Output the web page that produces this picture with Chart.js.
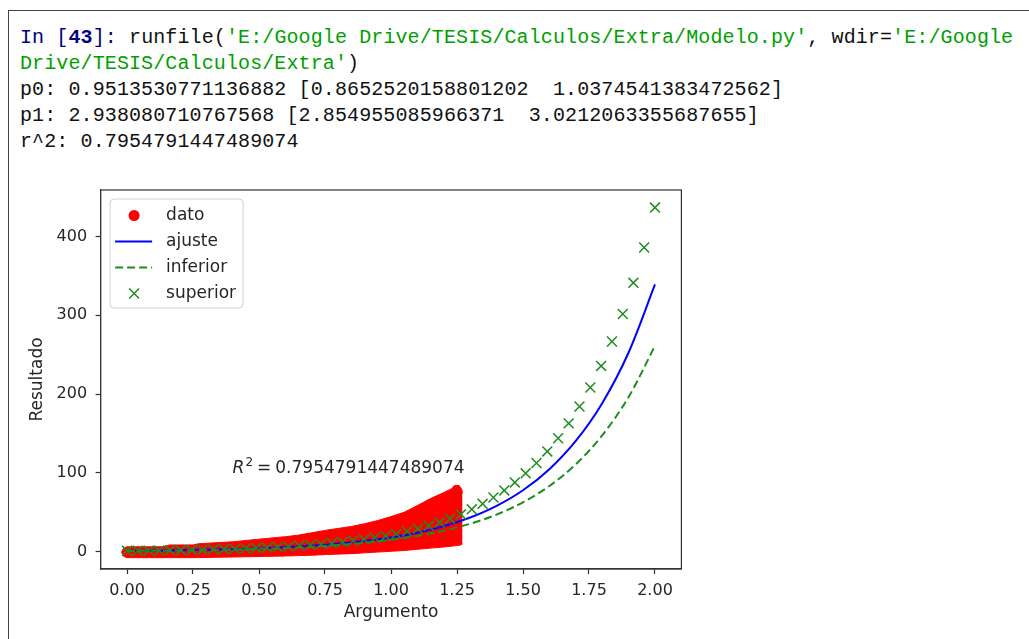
<!DOCTYPE html>
<html>
<head>
<meta charset="utf-8">
<script src="https://cdn.jsdelivr.net/npm/chart.js@4"></script>
<style>
  body { margin: 0; background: #fff; width: 1029px; height: 639px; overflow: hidden; position: relative; }
  #frame { position: absolute; left: 8px; top: 10px; width: 1030px; height: 640px;
           border-left: 1.5px solid #444; border-top: 1.5px solid #444; }
  #console { position: absolute; left: 20px; top: 25px; font: 20px 'Liberation Mono', monospace;
             line-height: 26px; letter-spacing: 0.11px; white-space: pre; color: #111; }
  .p { color: #000080; }
  .s { color: #00a000; }
  #box { position: absolute; left: 0; top: 170px; width: 720px; height: 469px; }
</style>
</head>
<body>
<div id="frame"></div>
<div id="console"><span class="p">In [</span><span class="p"><b>43</b></span><span class="p">]: </span>runfile(<span class="s">'E:/Google Drive/TESIS/Calculos/Extra/Modelo.py'</span>, wdir=<span class="s">'E:/Google</span>
<span class="s">Drive/TESIS/Calculos/Extra'</span>)
p0: 0.9513530771136882 [0.8652520158801202  1.0374541383472562]
p1: 2.938080710767568 [2.854955085966371  3.0212063355687655]
r^2: 0.7954791447489074</div>
<div id="box"><canvas id="chart"></canvas></div>
<script>
// axis ticks
const xTicks = [0, 0.25, 0.5, 0.75, 1, 1.25, 1.5, 1.75, 2];
const yTicks = [0, 100, 200, 300, 400];

// dato cloud, outline (top / bottom edge)
const datoX      = [-0.021, -0.012, 0, 0.14, 0.16, 0.25, 0.27, 0.40, 0.52, 0.60, 0.65, 0.70, 0.76, 0.85, 0.90, 0.95, 1.00, 1.05, 1.10, 1.15, 1.20, 1.23, 1.24, 1.258, 1.268, 1.271];
const datoTop    = [-0.8, 4.5, 6.2, 6.2, 8.5, 8.5, 10, 12.5, 16.5, 19, 21, 24, 27.5, 32, 35.5, 39.5, 44.5, 50, 58.5, 67.5, 75, 80, 84, 84, 79, 74];
const datoBottom = [-0.8, -6, -7.6, -7.6, -7.6, -7.6, -7.5, -6.8, -6, -5.5, -5, -4.5, -3.5, -2.5, -1.5, -0.5, 0.5, 1.5, 3, 4.5, 6, 7, 7.5, 8, 9, 10];

// fitted curves
const fitX      = [0, 0.1, 0.2, 0.3, 0.4, 0.5, 0.6, 0.7, 0.8, 0.9, 1.0, 1.1, 1.2, 1.3, 1.4, 1.5, 1.6, 1.7, 1.8, 1.9, 2.0];
const ajusteY   = [0.95, 1.28, 1.71, 2.30, 3.08, 4.13, 5.55, 7.44, 9.98, 13.4, 18.0, 24.1, 32.3, 43.4, 58.2, 78.0, 104.7, 140.5, 188.4, 252.8, 339.1];
const inferiorY = [0.87, 1.15, 1.53, 2.04, 2.71, 3.61, 4.80, 6.38, 8.49, 11.3, 15.0, 20.0, 26.6, 35.4, 47.1, 62.7, 83.4, 110.9, 147.6, 196.3, 261.2];

// superior markers
const supX = [0, 0.041, 0.082, 0.122, 0.163, 0.204, 0.245, 0.286, 0.327, 0.367, 0.408, 0.449, 0.490, 0.531, 0.571, 0.612, 0.653, 0.694, 0.735, 0.776, 0.816, 0.857, 0.898, 0.939, 0.980, 1.020, 1.061, 1.102, 1.143, 1.184, 1.224, 1.265, 1.306, 1.347, 1.388, 1.429, 1.469, 1.510, 1.551, 1.592, 1.633, 1.673, 1.714, 1.755, 1.796, 1.837, 1.878, 1.918, 1.959, 2.0];
const supY = [1.04, 1.17, 1.33, 1.50, 1.70, 1.92, 2.17, 2.46, 2.78, 3.15, 3.56, 4.03, 4.56, 5.15, 5.83, 6.60, 7.46, 8.44, 9.55, 10.8, 12.2, 13.8, 15.6, 17.7, 20.0, 22.6, 25.6, 29.0, 32.8, 37.1, 41.9, 47.4, 53.7, 60.7, 68.7, 77.7, 87.9, 99.4, 112.5, 127.2, 143.9, 162.8, 184.2, 208.4, 235.7, 266.7, 301.6, 341.2, 386.0, 436.7];

const r2Text = '0.7954791447489074';

const RED = '#ff0000', BLUE = '#0000ff', GREEN = '#1f8c1f', INK = '#262626', AXIS = '#333';
const FONT = 'DejaVu Sans';

const pts = (xs, ys) => xs.map((x, i) => ({ x, y: ys[i] }));

// box round the axes + legend + R^2 note
const decor = {
  id: 'decor',
  afterDatasetsDraw(chart) {
    const { ctx, chartArea: a, scales: { x, y } } = chart;
    ctx.save();
    // R^2 text
    const tx = x.getPixelForValue(0.4), ty = y.getPixelForValue(100);
    ctx.fillStyle = INK;
    ctx.textBaseline = 'alphabetic';
    ctx.textAlign = 'left';
    ctx.font = 'oblique 17px "' + FONT + '"';
    ctx.fillText('R', tx, ty);
    let cx = tx + ctx.measureText('R').width + 1;
    ctx.font = '12px "' + FONT + '"';
    ctx.fillText('2', cx, ty - 7);
    cx += ctx.measureText('2').width + 4;
    ctx.font = '17px "' + FONT + '"';
    ctx.fillText('=', cx, ty);
    cx += ctx.measureText('=').width + 4;
    ctx.fillText(r2Text, cx, ty);

    // axes frame
    ctx.strokeStyle = AXIS;
    ctx.lineWidth = 1.2;
    ctx.strokeRect(a.left, a.top, a.right - a.left, a.bottom - a.top);

    // legend
    const lx = a.left + 9.5, ly = a.top + 9, lw = 133, lh = 109;
    ctx.beginPath();
    ctx.roundRect(lx, ly, lw, lh, 4);
    ctx.fillStyle = 'rgba(255,255,255,0.8)';
    ctx.fill();
    ctx.strokeStyle = '#d0d0d0';
    ctx.lineWidth = 1;
    ctx.stroke();
    const names = ['dato', 'ajuste', 'inferior', 'superior'];
    const hx0 = lx + 5, hx1 = lx + 42, hc = lx + 24;
    names.forEach((n, i) => {
      const ry = ly + 16.5 + 26 * i;
      ctx.save();
      if (i === 0) {
        ctx.fillStyle = RED;
        ctx.beginPath(); ctx.arc(hc, ry, 5.5, 0, Math.PI * 2); ctx.fill();
      } else if (i === 1 || i === 2) {
        ctx.strokeStyle = i === 1 ? BLUE : GREEN;
        ctx.lineWidth = 2;
        if (i === 2) ctx.setLineDash([8, 4]);
        ctx.beginPath(); ctx.moveTo(hx0, ry); ctx.lineTo(hx1, ry); ctx.stroke();
      } else {
        ctx.strokeStyle = GREEN;
        ctx.lineWidth = 1.5;
        ctx.beginPath();
        ctx.moveTo(hc - 5, ry - 5); ctx.lineTo(hc + 5, ry + 5);
        ctx.moveTo(hc - 5, ry + 5); ctx.lineTo(hc + 5, ry - 5);
        ctx.stroke();
      }
      ctx.restore();
      ctx.fillStyle = INK;
      ctx.font = '17px "' + FONT + '"';
      ctx.textBaseline = 'middle';
      ctx.fillText(n, lx + 56, ry);
    });
    ctx.restore();
  }
};

new Chart(document.getElementById('chart'), {
  type: 'line',
  data: {
    datasets: [
      { label: 'dato', data: pts(datoX, datoTop), borderColor: RED, backgroundColor: RED,
        borderWidth: 1, pointRadius: 0, tension: 0, fill: '+1', order: 4 },
      { label: 'dato_low', data: pts(datoX, datoBottom), borderColor: RED, backgroundColor: RED,
        borderWidth: 1, pointRadius: 0, tension: 0, fill: false, order: 4 },
      { label: 'ajuste', data: pts(fitX, ajusteY), borderColor: BLUE, borderWidth: 2,
        pointRadius: 0, cubicInterpolationMode: 'monotone', fill: false, order: 3 },
      { label: 'inferior', data: pts(fitX, inferiorY), borderColor: GREEN, borderWidth: 2,
        borderDash: [8, 4], pointRadius: 0, cubicInterpolationMode: 'monotone', fill: false, order: 2 },
      { label: 'superior', data: pts(supX, supY), showLine: false, pointStyle: 'crossRot',
        pointRadius: 7, borderColor: GREEN, borderWidth: 1.5, order: 1 }
    ]
  },
  options: {
    responsive: true,
    maintainAspectRatio: false,
    animation: false,
    events: [],
    layout: { padding: { left: 0, top: 20, right: 38.6, bottom: 0 } },
    plugins: { legend: { display: false }, tooltip: { enabled: false } },
    scales: {
      x: {
        type: 'linear', min: -0.1, max: 2.1,
        afterBuildTicks: s => { s.ticks = xTicks.map(v => ({ value: v })); },
        afterFit: s => { s.height = 70; },
        ticks: { callback: v => v.toFixed(2), font: { family: FONT, size: 16 }, color: INK,
                 padding: 7, maxRotation: 0, autoSkip: false },
        grid: { display: true, drawOnChartArea: false, drawTicks: true, tickLength: 5,
                tickColor: AXIS, tickWidth: 1.2 },
        border: { display: true, color: AXIS, width: 1.2 },
        title: { display: true, text: 'Argumento', font: { family: FONT, size: 17 }, color: INK,
                 padding: { top: 0, bottom: 16 } }
      },
      y: {
        type: 'linear', min: -22, max: 459,
        afterBuildTicks: s => { s.ticks = yTicks.map(v => ({ value: v })); },
        afterFit: s => { s.width = 100.6; },
        ticks: { font: { family: FONT, size: 16 }, color: INK, padding: 8.5 },
        grid: { display: true, drawOnChartArea: false, drawTicks: true, tickLength: 5,
                tickColor: AXIS, tickWidth: 1.2 },
        border: { display: true, color: AXIS, width: 1.2 },
        title: { display: true, text: 'Resultado', font: { family: FONT, size: 17 }, color: INK,
                 padding: { top: 27.5, bottom: 0 } }
      }
    }
  },
  plugins: [decor]
});
</script>
</body>
</html>
